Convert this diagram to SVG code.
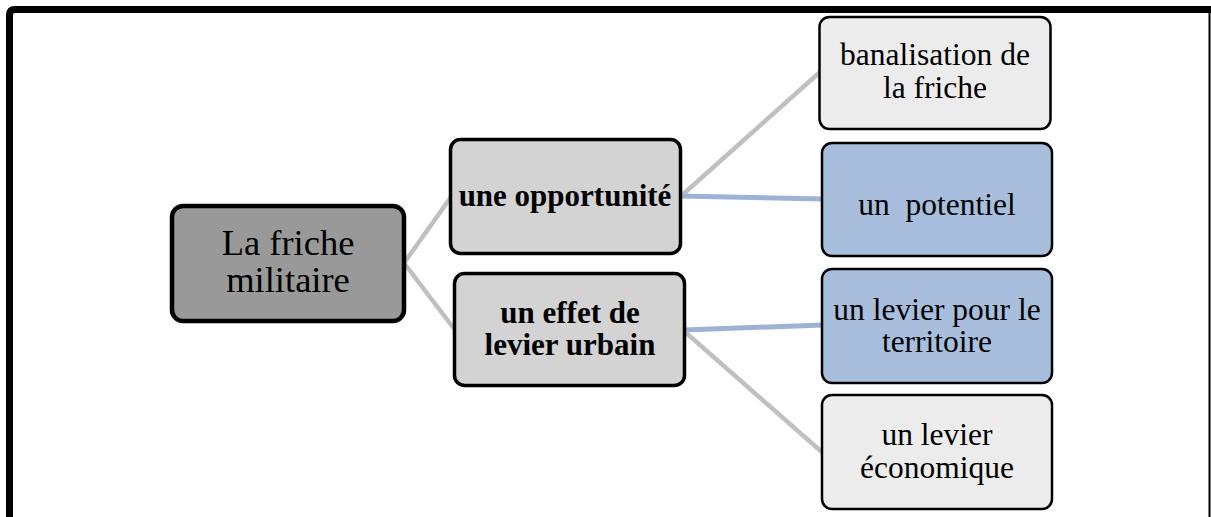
<svg xmlns="http://www.w3.org/2000/svg" width="1211" height="517" viewBox="0 0 1211 517">
<style>
  .t { font-family: "Liberation Serif", "Times New Roman", serif; fill: #000; text-anchor: middle; }
  .root { font-size: 36.5px; }
  .mid { font-size: 31px; font-weight: bold; }
  .leaf { font-size: 31.5px; }
  .gray { stroke: #c0c0c0; stroke-width: 4.5; fill: none; }
  .blue { stroke: #9db3d5; stroke-width: 5; fill: none; }
</style>
<rect x="0" y="0" width="1211" height="517" fill="#ffffff"/>
<path d="M9.5,517 V15 Q9.5,9.5 15,9.5 H1211" fill="none" stroke="#000" stroke-width="7"/>
<line x1="1209.5" y1="12" x2="1209.5" y2="517" stroke="#000" stroke-width="2"/>
<g id="connectors">
  <line class="gray" x1="404" y1="263" x2="451" y2="197"/>
  <line class="gray" x1="404" y1="263" x2="455" y2="330"/>
  <line class="gray" x1="680" y1="197" x2="820" y2="72"/>
  <line class="blue" x1="680" y1="196" x2="823" y2="199"/>
  <line class="blue" x1="684" y1="330" x2="823" y2="325"/>
  <line class="gray" x1="684" y1="331" x2="823" y2="453"/>
</g>
<g id="root">
  <rect x="172" y="206" width="232" height="115" rx="11" fill="#999999" stroke="#000" stroke-width="4.5"/>
  <text class="t root" x="288" y="255">La friche</text>
  <text class="t root" x="288" y="292">militaire</text>
</g>
<g id="opportunite">
  <rect x="450.5" y="139.5" width="230" height="114" rx="10" fill="#d3d3d3" stroke="#000" stroke-width="3.5"/>
  <text class="t mid" x="565" y="206">une opportunité</text>
</g>
<g id="levier-urbain">
  <rect x="454.5" y="273.5" width="230" height="112" rx="10" fill="#d3d3d3" stroke="#000" stroke-width="3.5"/>
  <text class="t mid" x="570" y="323">un effet de</text>
  <text class="t mid" x="570" y="355">levier urbain</text>
</g>
<g id="banalisation">
  <rect x="819.5" y="17" width="231" height="112" rx="10" fill="#ececec" stroke="#000" stroke-width="2.5"/>
  <text class="t leaf" x="935" y="65">banalisation de</text>
  <text class="t leaf" x="935" y="98">la friche</text>
</g>
<g id="potentiel">
  <rect x="822" y="143" width="230" height="113" rx="10" fill="#a7bfdd" stroke="#000" stroke-width="2.5"/>
  <text class="t leaf" x="937" y="215" xml:space="preserve">un  potentiel</text>
</g>
<g id="territoire">
  <rect x="822" y="269" width="230" height="114" rx="10" fill="#a7bfdd" stroke="#000" stroke-width="2.5"/>
  <text class="t leaf" x="937" y="320">un levier pour le</text>
  <text class="t leaf" x="937" y="352">territoire</text>
</g>
<g id="economique">
  <rect x="822" y="395" width="230" height="114" rx="10" fill="#ececec" stroke="#000" stroke-width="2.5"/>
  <text class="t leaf" x="937" y="445">un levier</text>
  <text class="t leaf" x="937" y="478">économique</text>
</g>
</svg>
